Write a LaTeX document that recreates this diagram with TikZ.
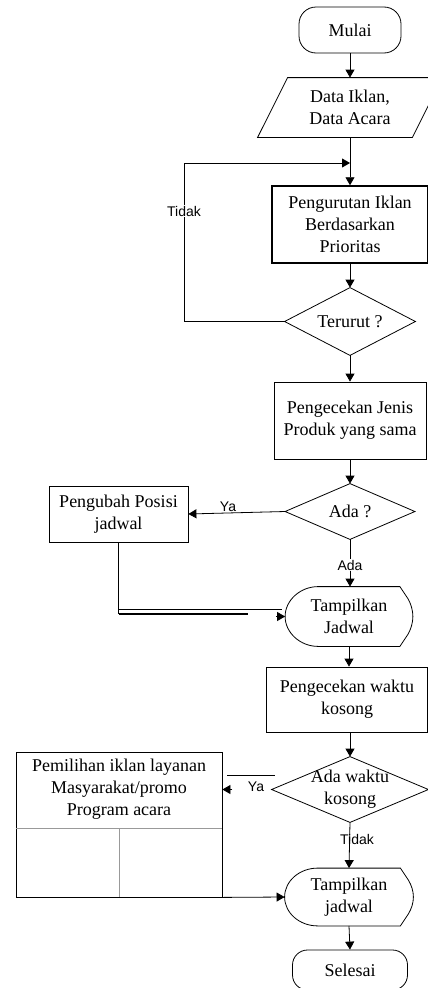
\documentclass[tikz,border=0pt]{standalone}
\usepackage{fontspec}
\setmainfont{Liberation Serif}
\newfontfamily\labelsans{Liberation Sans}
\usetikzlibrary{arrows.meta,calc}

% outline of a "display" node: rounded left side, bevelled right side
\newcommand\displayoutline[1]{%
  \draw ($(#1.north west)+(33,0)$) -- ($(#1.north east)+(-13,0)$)
    -- ($(#1.north east)+(-5,12)$)
    .. controls +(3,5) and +(0,-6) .. (#1.east)
    .. controls +(0,6) and +(3,-5) .. ($(#1.south east)+(-5,-12)$)
    -- ($(#1.south east)+(-13,0)$)
    -- ($(#1.south west)+(33,0)$)
    .. controls +(-18,0) and +(0,16) .. (#1.west)
    .. controls +(0,-16) and +(-18,0) .. ($(#1.north west)+(33,0)$) -- cycle;}
% outline of a decision node
\newcommand\diamondoutline[1]{%
  \draw (#1.north) -- (#1.east) -- (#1.south) -- (#1.west) -- cycle;}

\begin{document}
\begin{tikzpicture}[x=1pt,y=-1pt,
  line width=0.8pt,
  txt/.style={font=\fontsize{18}{22}\selectfont, align=center, inner sep=0pt},
  procbox/.style={txt, draw},
  term/.style={txt, draw},
  arr/.style={-{Triangle[length=8pt,width=9pt]}},
  lbl/.style={font=\labelsans\fontsize{14}{16}\selectfont, inner sep=1pt},
  divider/.style={gray!80, line width=0.8pt}]

\useasboundingbox (0,0) rectangle (428,988);

% ---- nodes ----
\node[term, minimum width=102pt, minimum height=46pt, rounded corners=17pt] (mulai) at (350,30) {Mulai};

\node[txt, minimum width=154pt, minimum height=59pt] (data) at (350,107.5) {Data Iklan,\\Data Acara};
\draw ($(data.north west)+(15,0)$) -- ($(data.north east)+(15,0)$)
   -- ($(data.south east)+(-15,0)$) -- ($(data.south west)+(-15,0)$) -- cycle;

\coordinate (join) at (350,163);

\node[procbox, line width=1.5pt, minimum width=156pt, minimum height=77pt] (urut) at (350,224.5)
  {Pengurutan Iklan\\Berdasarkan\\Prioritas};

\node[txt, minimum width=130pt, minimum height=67pt] (terurut) at (350,321.5) {Terurut ?};
\diamondoutline{terurut}

\node[procbox, minimum width=152pt, minimum height=77pt] (jenis) at (350,420.5)
  {Pengecekan Jenis\\Produk yang sama};

\node[txt, minimum width=129pt, minimum height=55pt] (ada) at (350,511.5) {Ada ?};
\diamondoutline{ada}

\node[procbox, minimum width=139pt, minimum height=56pt] (ubah) at (118.5,514)
  {Pengubah Posisi\\jadwal};

\node[txt, minimum width=127pt, minimum height=59pt] (tampil) at (349,616.5) {Tampilkan\\Jadwal};
\displayoutline{tampil}

\node[procbox, minimum width=161pt, minimum height=65pt] (waktu) at (347,699.5)
  {Pengecekan waktu\\kosong};

\node[txt, minimum width=156pt, minimum height=65pt] (kosong) at (350,789.5) {Ada waktu\\kosong};
\diamondoutline{kosong}

\node[draw, minimum width=206pt, minimum height=145pt, inner sep=0pt] (pilih) at (119,824.5) {};
\node[txt] (pilihtext) at (119,789.5) {Pemilihan iklan layanan\\Masyarakat/promo\\Program acara};
\coordinate (cell) at (119,828);
\draw[divider] (pilih.west |- cell) -- (pilih.east |- cell);
\draw[divider] (cell) -- (cell |- pilih.south);

\node[txt, minimum width=128pt, minimum height=57pt] (tampil2) at (349,897) {Tampilkan\\jadwal};
\displayoutline{tampil2}

\node[term, minimum width=115pt, minimum height=40pt, rounded corners=15pt] (selesai) at (350,970) {Selesai};

% ---- connectors ----
\draw[arr] (mulai) -- (data);
\draw[arr] (data) -- (urut);
\draw[arr] (terurut.west) -- ++(-100,0) |- (join);
\node[lbl, fill=white] at (184,211) {Tidak};
\draw[arr] (urut) -- (terurut);
\draw[arr] (terurut) -- (jenis);
\draw[arr] (jenis) -- (ada);

\draw[arr] (ada.west) -- (ubah.east);
\node[lbl] at (228,507) {Ya};

\draw[arr] (ada.south) -- (ada.south |- tampil.north);
\node[lbl, fill=white] at (350,565) {Ada};

\coordinate (upper) at (282,609);
\coordinate (lower) at (248,614);
\draw (ubah.south) -- (ubah.south |- lower);
\draw (ubah.south |- upper) -- (upper);
\draw[line width=1.8pt] (ubah.south |- lower) -- (lower);
\draw[arr] ($(tampil.west)+(-9,0)$) -- (tampil.west);

\draw[arr] (tampil.south) -- (tampil.south |- waktu.north);
\draw[arr] (waktu.south -| kosong.north) -- (kosong.north);

\coordinate (yatop) at (227,775);
\draw (yatop) -- ++(48,0);
\draw[arr] ($(kosong.west -| pilih.east)+(10,0)$) -- (kosong.west -| pilih.east);
\node[lbl] at (256,787) {Ya};

\draw[arr] (kosong.south) -- (tampil2.north);
\node[lbl] at (357,839) {Tidak};

\draw[arr] (pilih.south east) -- (tampil2.west);
\draw[arr] (tampil2.south) -- (selesai.north);

\end{tikzpicture}
\end{document}
